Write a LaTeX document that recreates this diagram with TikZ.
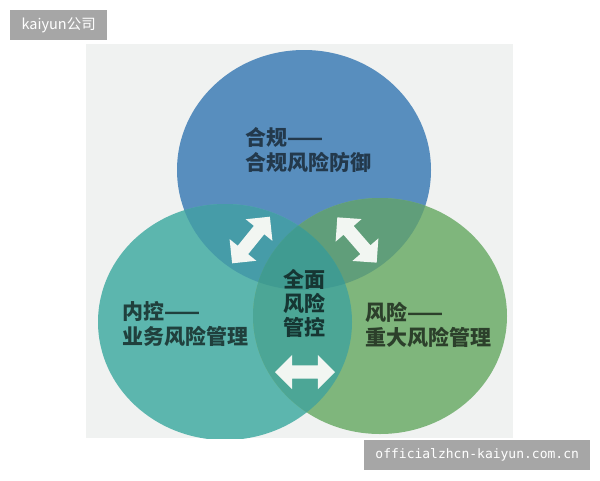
\documentclass[tikz,border=0pt]{standalone}
\usepackage{fontspec}
\newfontfamily\cjk{Noto Sans CJK SC}
\newfontfamily\mono{DejaVu Sans Mono}
\usepackage{xcolor}
\usetikzlibrary{shapes.arrows}
\definecolor{panelc}{HTML}{F0F2F1}
\definecolor{topc}{HTML}{588EBE}
\definecolor{leftc}{HTML}{5CB6AE}
\definecolor{rightc}{HTML}{7FB67C}
\definecolor{tlc}{HTML}{469CA8}
\definecolor{trc}{HTML}{609E7A}
\definecolor{lrc}{HTML}{4CA696}
\definecolor{midc}{HTML}{409B91}
\definecolor{tagc}{HTML}{A6A6A6}
\definecolor{arrowc}{HTML}{F2F6F2}
\def\toparea{(304,170) ellipse (127pt and 120pt)}
\def\leftarea{(225,322) ellipse (127pt and 118pt)}
\def\rightarea{(380,316) ellipse (127pt and 118pt)}
\tikzset{
  swap/.style={double arrow, fill=arrowc, inner xsep=0pt, inner ysep=6.5pt,
    minimum height=60pt, double arrow head extend=10.5pt},
  lbl/.style={font=\cjk\bfseries\fontsize{21}{25}\selectfont, inner sep=0pt,
    align=left, anchor=north west},
  tag/.style={fill=tagc, text=white, inner sep=0pt, minimum height=30pt}
}
\begin{document}
\begin{tikzpicture}[x=1pt,y=-1pt]
    \useasboundingbox (0,0) rectangle (600,480);
    \fill[white] (0,0) rectangle (600,480);
    \fill[panelc] (86,44) rectangle (513,438);
    \begin{scope}
      \clip (86,44) rectangle (513,438);
      \fill[topc] \toparea;
      \fill[leftc] \leftarea;
      \fill[rightc] \rightarea;
      \begin{scope}
        \clip \toparea;
        \fill[tlc] \leftarea;
        \fill[trc] \rightarea;
      \end{scope}
      \begin{scope}
        \clip \leftarea;
        \fill[lrc] \rightarea;
      \end{scope}
      \begin{scope}
        \clip \toparea;
        \clip \leftarea;
        \fill[midc] \rightarea;
      \end{scope}
    \end{scope}
    \node[lbl, text=topc!40!black] (hegui) at (245,127) {合规——\\合规风险防御};
    \node[lbl, text=leftc!35!black] (neikong) at (122,301) {内控——\\业务风险管理};
    \node[lbl, text=rightc!35!black] (fengxian) at (365,302) {风险——\\重大风险管理};
    \node[lbl, align=center, anchor=north, text=midc!35!black,
      font=\cjk\bfseries\fontsize{21}{24}\selectfont] (quanmian) at (304,269) {全面\\风险\\管控};
    \node[swap, rotate=51] (arrTL) at (251,240) {};
    \node[swap, rotate=-49] (arrTR) at (357,240) {};
    \node[swap] (arrB) at (305,372) {};
    \node[tag, minimum width=97pt, anchor=north west, font=\cjk\fontsize{14.5}{16}\selectfont]
      (corp) at (10,10) {kaiyun公司};
    \node[tag, minimum width=226pt, anchor=north west, font=\mono\fontsize{13}{15}\selectfont]
      (site) at (364,440) {officialzhcn-kaiyun.com.cn};
  \end{tikzpicture}
\end{document}
